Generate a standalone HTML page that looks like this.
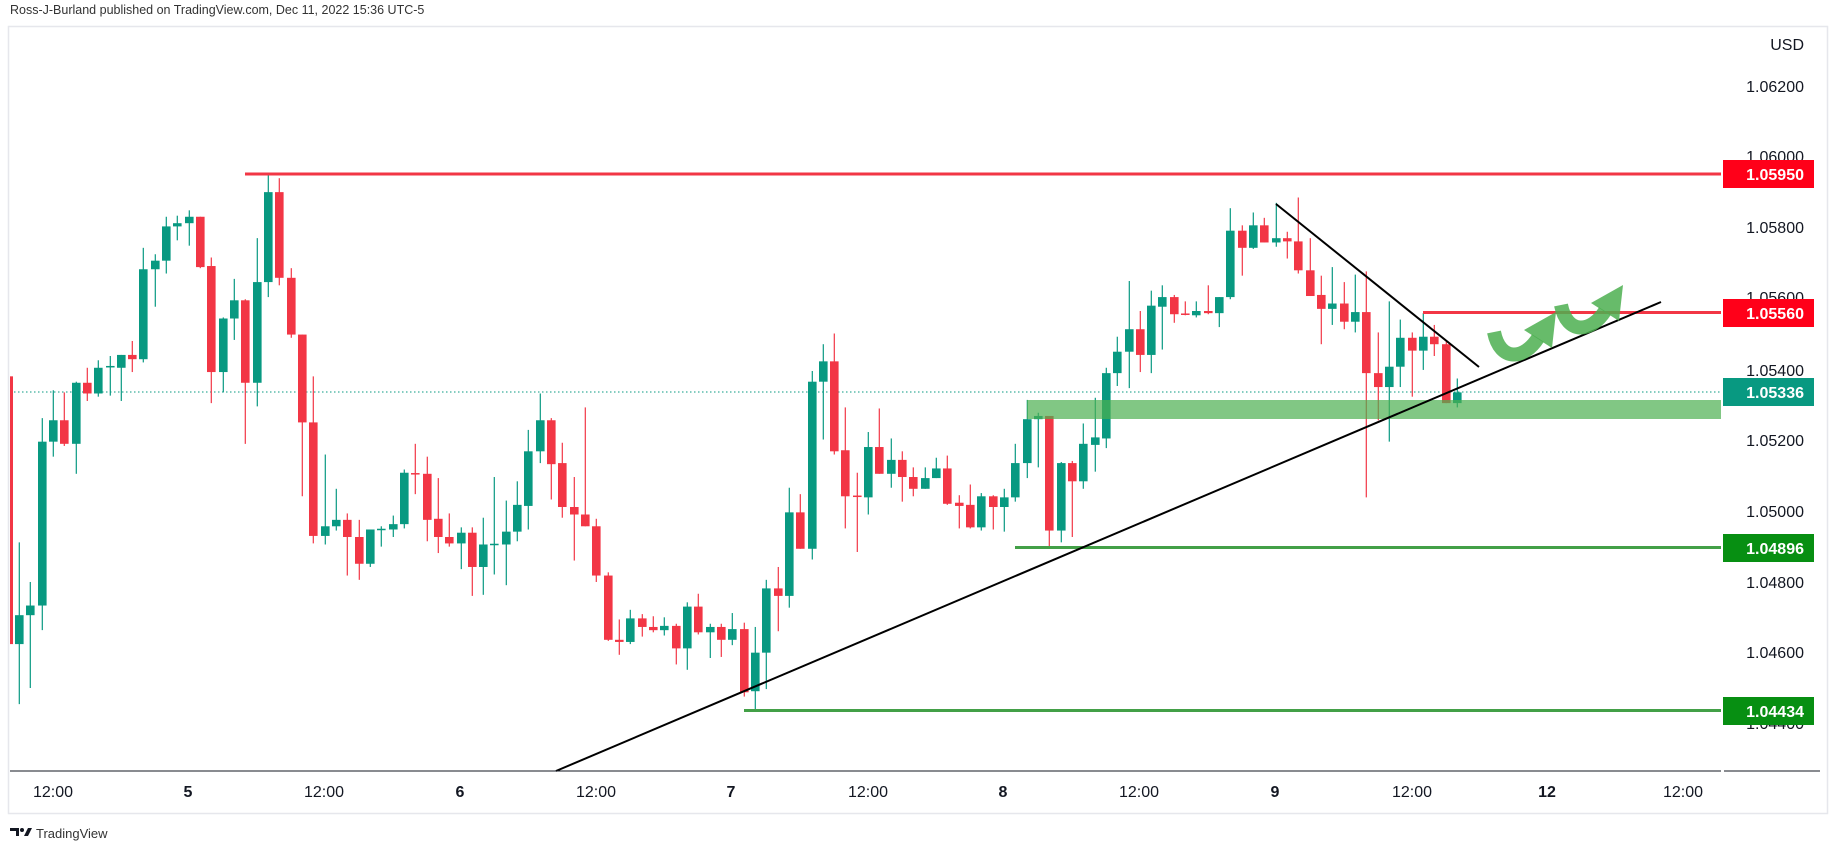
<!DOCTYPE html>
<html><head><meta charset="utf-8"><style>
html,body{margin:0;padding:0;background:#fff;}
body{width:1834px;height:850px;overflow:hidden;font-family:"Liberation Sans",sans-serif;}
</style></head><body>
<svg id="s" width="1834" height="850" viewBox="0 0 1834 850" xmlns="http://www.w3.org/2000/svg" font-family="Liberation Sans, sans-serif">
<rect x="0" y="0" width="1834" height="850" fill="#fff"/>
<text x="10" y="14" font-size="12.5" fill="#333">Ross-J-Burland published on TradingView.com, Dec 11, 2022 15:36 UTC-5</text>
<rect x="8.5" y="26.5" width="1819" height="787" fill="none" stroke="#e6e7ec" stroke-width="1.5"/>
<g id="g"></g>
<g font-size="16" fill="#131722" text-anchor="end">
<text x="1804" y="50">USD</text>
<text x="1804" y="92">1.06200</text>
<text x="1804" y="162">1.06000</text>
<text x="1804" y="233">1.05800</text>
<text x="1804" y="303">1.05600</text>
<text x="1804" y="376">1.05400</text>
<text x="1804" y="446">1.05200</text>
<text x="1804" y="517">1.05000</text>
<text x="1804" y="588">1.04800</text>
<text x="1804" y="658">1.04600</text>
<text x="1804" y="729">1.04400</text>
</g>
<g font-size="16" fill="#fff" text-anchor="end" font-weight="bold">
<rect x="1723" y="160" width="91" height="28" fill="#ff0019"/><text x="1804" y="180">1.05950</text>
<rect x="1723" y="299" width="91" height="28" fill="#ff0019"/><text x="1804" y="319">1.05560</text>
<rect x="1723" y="378" width="91" height="28" fill="#089981"/><text x="1804" y="398">1.05336</text>
<rect x="1723" y="534" width="91" height="28" fill="#078f12"/><text x="1804" y="554">1.04896</text>
<rect x="1723" y="697" width="91" height="28" fill="#078f12"/><text x="1804" y="717">1.04434</text>
</g>
<line x1="10" y1="771" x2="1721" y2="771" stroke="#131722" stroke-width="1"/>
<line x1="1724" y1="771" x2="1820" y2="771" stroke="#131722" stroke-width="1"/>
<g font-size="16" fill="#131722" text-anchor="middle">
<text x="53" y="797">12:00</text>
<text x="188" y="797" font-weight="bold">5</text>
<text x="324" y="797">12:00</text>
<text x="460" y="797" font-weight="bold">6</text>
<text x="596" y="797">12:00</text>
<text x="731" y="797" font-weight="bold">7</text>
<text x="868" y="797">12:00</text>
<text x="1003" y="797" font-weight="bold">8</text>
<text x="1139" y="797">12:00</text>
<text x="1275" y="797" font-weight="bold">9</text>
<text x="1412" y="797">12:00</text>
<text x="1547" y="797" font-weight="bold">12</text>
<text x="1683" y="797">12:00</text>
</g>
<g fill="#131722"><path d="M10,828 h9 v8 h-3 v-5 h-6z"/><circle cx="22" cy="830" r="2"/><path d="M24,836 l4,-8 h4 l-4,8z"/></g>
<text x="36" y="838" font-size="13" fill="#333">TradingView</text>
</svg>
<script>
var D=[[19.3,'g',585,612,517,668],[30.3,'g',576,585,554,653],[42.3,'g',423,576,401,599],[53.3,'g',403,423,375,437],[64.3,'r',403,425,377,427],[76.3,'g',368,425,367,453],[87.3,'r',368,378,354,385],[98.3,'g',354,378,347,381],[110.3,'g',353,353,343,380],[121.3,'g',342,354,342,385],[132.3,'r',342,346,329,358],[143.3,'g',262,346,242,349],[155.3,'g',254,262,248,297],[166.3,'g',222,254,213,266],[177.3,'g',219,222,212,235],[189.3,'g',213,219,207,240],[200.3,'r',213,260,213,261],[211.3,'r',259,358,251,387],[223.3,'g',308,358,307,377],[234.3,'g',291,308,271,328],[245.3,'r',291,368,290,425],[257.3,'g',274,368,233,390],[268.3,'g',190,274,173,288],[279.3,'r',190,270,177,277],[291.3,'r',270,323,261,326],[302.3,'r',323,405,323,474],[313.3,'r',405,511,362,518],
[325.3,'g',502,511,435,519],[336.3,'g',496,502,467,506],[347.3,'r',496,512,490,548],[359.3,'r',512,537,496,552],[370.3,'g',505,537,505,540],[381.3,'g',505,505,502,521],[393.3,'g',500,505,492,512],[404.3,'g',452,500,449,504],[415.3,'r',453,453,425,472],[427.3,'r',453,496,437,516],[438.3,'r',495,512,457,527],[449.3,'r',512,518,490,521],[461.3,'g',508,518,503,542],[472.3,'r',508,540,503,567],[483.3,'g',519,540,494,566],[494.3,'g',519,519,456,547],[506.3,'g',507,519,478,557],[517.3,'g',482,507,460,516],[528.3,'g',432,483,412,505],[540.3,'g',403,432,378,443],[551.3,'r',403,444,401,477],[562.3,'r',443,484,424,494],[574.3,'r',484,491,456,534],[585.3,'r',491,502,391,502],[596.3,'r',502,548,495,554],[608.3,'r',548,608,545,609],[619.3,'r',608,610,589,622],[630.3,'g',588,610,580,612],[642.3,'r',588,596,584,605],[653.3,'r',596,599,586,601],[664.3,'g',595,599,587,604],[676.3,'r',595,616,593,631],[687.3,'g',577,616,573,636],[698.3,'r',577,601,565,603],[710.3,'g',596,601,593,625],[721.3,'r',596,608,593,624],[732.3,'g',598,608,583,613],[744.3,'r',598,657,592,661],[755.3,'g',620,656,596,674],[766.3,'g',560,620,552,654],[778.3,'r',560,567,540,600],[789.3,'g',489,567,466,578],[800.3,'r',489,523,472,523],[812.3,'g',367,523,357,533],[823.3,'g',348,367,332,421],[834.3,'r',348,432,322,435],[845.3,'r',431,474,391,504],[857.3,'r',474,474,452,526],[868.3,'g',428,475,414,491],[879.3,'r',428,453,392,453],[891.3,'g',440,453,420,466],[902.3,'r',440,456,432,479],[913.3,'r',456,467,447,474],[925.3,'g',457,467,447,467],[936.3,'g',448,457,438,457],[947.3,'r',448,481,436,482],[959.3,'r',480,483,473,504],[970.3,'r',482,503,463,504],[981.3,'g',474,503,471,506],[993.3,'r',474,484,473,505],[1004.3,'g',475,484,467,507],[1015.3,'g',443,475,425,479],[1027.3,'g',402,443,384,457],[1038.3,'g',399,402,396,447],[1049.3,'r',399,506,399,522],[1061.3,'g',443,506,442,517],[1072.3,'r',443,460,441,512],[1083.3,'g',425,460,406,467],[1095.3,'g',419,426,382,451],[1106.3,'g',359,420,354,429],[1117.3,'g',339,359,325,371],[1129.3,'g',318,339,273,373],[1140.3,'r',318,342,301,358],[1151.3,'g',296,342,282,359],[1162.3,'g',288,297,277,337],[1174.3,'r',288,304,286,312],[1185.3,'r',304,305,292,305],[1196.3,'g',301,305,292,307],[1208.3,'r',301,303,277,304],[1219.3,'g',288,303,288,316],[1230.3,'g',226,288,205,290],[1242.3,'r',226,242,221,268],[1253.3,'g',221,242,209,243],[1264.3,'r',221,237,214,237],[1276.3,'g',233,237,200,241],[1287.3,'r',233,236,227,252],[1298.3,'r',236,263,195,266],[1310.3,'r',263,287,233,287],[1321.3,'r',286,299,268,332],[1332.3,'g',294,299,260,314],[1344.3,'r',294,311,274,318],[1355.3,'g',302,311,267,321],[1366.3,'r',302,359,264,475],[1378.3,'r',359,372,321,403],[1389.3,'g',353,372,292,423],[1400.3,'g',326,353,309,372],[1412.3,'r',326,338,321,381],[1423.3,'g',325,338,303,356],[1434.3,'r',325,332,314,343],[1446.3,'r',332,387,329,387],[1457.3,'g',377,387,364,391]];
function Y(v){return 160+(v-160)*1.071;}
var h='';
h+='<line x1="10" y1="392" x2="1721" y2="392" stroke="#089981" stroke-width="1" stroke-dasharray="1.5,2.5"/>';
h+='<rect x="10" y="'+Y(362)+'" width="3" height="'+(Y(612)-Y(362))+'" fill="#f23645"/>';
for(var i=0;i<D.length;i++){var d=D[i],c=d[1]=='g'?'#089981':'#f23645';
var t=Y(d[2]),b=Y(d[3]);if(b-t<1.5){t-=0.75;b=t+1.5;}
h+='<line x1="'+d[0]+'" y1="'+Y(d[4])+'" x2="'+d[0]+'" y2="'+Y(d[5])+'" stroke="'+c+'" stroke-width="1.2"/>';
h+='<rect x="'+(d[0]-4.3)+'" y="'+t+'" width="8.6" height="'+(b-t)+'" fill="'+c+'"/>';}
h+='<rect x="1027" y="400" width="694" height="19" fill="rgba(76,175,80,0.7)"/>';
h+='<line x1="245" y1="174" x2="1721" y2="174" stroke="#f23645" stroke-width="3"/>';
h+='<line x1="1423" y1="312.5" x2="1721" y2="312.5" stroke="#f23645" stroke-width="3"/>';
h+='<line x1="1015" y1="547.5" x2="1721" y2="547.5" stroke="#43a047" stroke-width="3"/>';
h+='<line x1="744" y1="710.5" x2="1721" y2="710.5" stroke="#43a047" stroke-width="3"/>';
h+='<line x1="556" y1="771" x2="1661" y2="302" stroke="#000" stroke-width="2"/>';
h+='<line x1="1276" y1="204" x2="1479" y2="367" stroke="#000" stroke-width="2"/>';
function arrow(x,y){var f='rgba(76,175,80,0.85)';return '<path d="M'+x+','+(y+8)+' C'+(x+6)+','+(y+38)+' '+(x+30)+','+(y+36)+' '+(x+44)+','+(y+14)+'" fill="none" stroke="'+f+'" stroke-width="14"/>'+
'<path d="M'+(x+30)+','+(y+6)+' L'+(x+62)+','+(y-12)+' L'+(x+58)+','+(y+24)+' Z" fill="'+f+'"/>';}
h+=arrow(1494,324)+arrow(1561,297);
document.getElementById('g').innerHTML=h;
</script>
</body></html>
